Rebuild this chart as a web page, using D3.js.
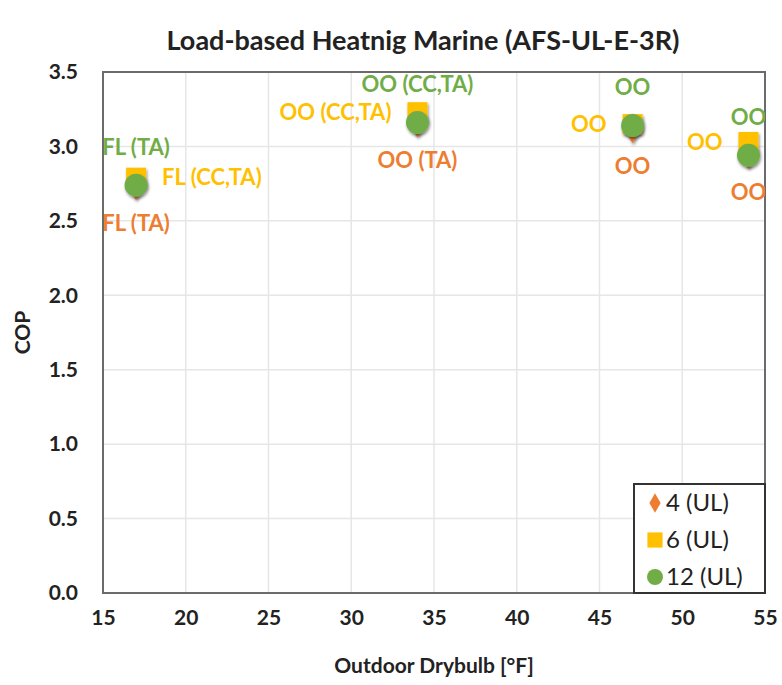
<!DOCTYPE html>
<html>
<head>
<meta charset="utf-8">
<script src="https://cdn.jsdelivr.net/npm/d3@7"></script>
<style>
  body { margin: 0; background: #fff; }
  text { font-family: Lato, "Open Sans", sans-serif; font-weight: 700; }
</style>
</head>
<body>
<div id="chart"></div>
<script>
// data
const temps = [17, 34, 47, 54];
const cop4 = [2.74, 3.16, 3.12, 2.95];
const cop6 = [2.79, 3.23, 3.15, 3.03];
const cop12 = [2.74, 3.16, 3.14, 2.94];
const labels4 = ["FL (TA)", "OO (TA)", "OO", "OO"];
const labels6 = ["FL (CC,TA)", "OO (CC,TA)", "OO", "OO"];
const labels12 = ["FL (TA)", "OO (CC,TA)", "OO", "OO"];
const seriesNames = ["4 (UL)", "6 (UL)", "12 (UL)"];
const xTicks = [15, 20, 25, 30, 35, 40, 45, 50, 55];
const yTicks = [0, 0.5, 1, 1.5, 2, 2.5, 3, 3.5];

const width = 782, height = 685;
const margin = { top: 72, right: 17, bottom: 92, left: 103 };

const svg = d3.select("#chart").append("svg")
    .attr("width", width)
    .attr("height", height);

const x = d3.scaleLinear().domain([15, 55]).range([margin.left, width - margin.right]);
const y = d3.scaleLinear().domain([0, 3.5]).range([height - margin.bottom, margin.top]);

// title
svg.append("text")
    .attr("x", 423).attr("y", 50)
    .attr("text-anchor", "middle")
    .attr("font-size", 27)
    .attr("fill", "#222")
    .text("Load-based Heatnig Marine (AFS-UL-E-3R)");

// grid
svg.append("g").selectAll("line").data(xTicks.slice(1, -1)).join("line")
    .attr("x1", d => x(d)).attr("x2", d => x(d))
    .attr("y1", y(0)).attr("y2", y(3.5))
    .attr("stroke", "#e6e6e6").attr("stroke-width", 1.5);
svg.append("g").selectAll("line").data(yTicks.slice(1, -1)).join("line")
    .attr("x1", x(15)).attr("x2", x(55))
    .attr("y1", d => y(d)).attr("y2", d => y(d))
    .attr("stroke", "#e6e6e6").attr("stroke-width", 1.5);

// axes
const xAxis = svg.append("g")
    .attr("transform", `translate(0,${y(0)})`)
    .call(d3.axisBottom(x).tickValues(xTicks).tickSize(0).tickPadding(17));
const yAxis = svg.append("g")
    .attr("transform", `translate(${x(15)},0)`)
    .call(d3.axisLeft(y).tickValues(yTicks).tickFormat(d3.format(".1f")).tickSize(0).tickPadding(25));
[xAxis, yAxis].forEach(g => {
    g.select(".domain").remove();
    g.selectAll("text").attr("font-size", 21).attr("fill", "#222")
        .attr("font-family", "Lato, sans-serif").attr("font-weight", 700);
});

// plot border
svg.append("rect")
    .attr("x", x(15)).attr("y", y(3.5))
    .attr("width", x(55) - x(15)).attr("height", y(0) - y(3.5))
    .attr("fill", "none").attr("stroke", "#6b6b6b").attr("stroke-width", 2);

// axis titles
svg.append("text")
    .attr("transform", `translate(30,${(y(0) + y(3.5)) / 2}) rotate(-90)`)
    .attr("text-anchor", "middle")
    .attr("font-size", 21).attr("fill", "#222")
    .text("COP");
svg.append("text")
    .attr("x", (x(15) + x(55)) / 2).attr("y", 673)
    .attr("text-anchor", "middle")
    .attr("font-size", 21).attr("fill", "#222")
    .text("Outdoor Drybulb [°F]");

const defs = svg.append("defs");
defs.append("clipPath").attr("id", "plot-clip")
    .append("rect")
    .attr("x", x(15)).attr("y", y(3.5))
    .attr("width", x(55) - x(15)).attr("height", y(0) - y(3.5));

const shadow = defs.append("filter").attr("id", "shadow")
    .attr("x", "-50%").attr("y", "-50%").attr("width", "200%").attr("height", "200%");
shadow.append("feDropShadow")
    .attr("dx", 1).attr("dy", 2).attr("stdDeviation", 1.6)
    .attr("flood-color", "#000").attr("flood-opacity", 0.45);

const plot = svg.append("g").attr("clip-path", "url(#plot-clip)");

const orange = "#ED7D31", yellow = "#FFC000", green = "#70AD47";

// series 4 (diamonds)
plot.append("g").selectAll("path").data(temps).join("path")
    .attr("d", d3.symbol(d3.symbolDiamond, 260)())
    .attr("transform", (d, i) => `translate(${x(d)},${y(cop4[i])})`)
    .attr("fill", orange).attr("filter", "url(#shadow)");

// series 6 (squares)
plot.append("g").selectAll("path").data(temps).join("path")
    .attr("d", d3.symbol(d3.symbolSquare, 400)())
    .attr("transform", (d, i) => `translate(${x(d)},${y(cop6[i])})`)
    .attr("fill", yellow).attr("filter", "url(#shadow)");

// series 12 (circles)
plot.append("g").selectAll("circle").data(temps).join("circle")
    .attr("cx", d => x(d))
    .attr("cy", (d, i) => y(cop12[i]))
    .attr("r", 11.5)
    .attr("fill", green).attr("filter", "url(#shadow)");

// data labels
const labelSize = 22;
plot.append("g").selectAll("text").data(temps).join("text")
    .attr("x", d => x(d))
    .attr("y", (d, i) => y(cop4[i]) + 38)
    .attr("dy", "0.35em")
    .attr("text-anchor", "middle")
    .attr("font-size", labelSize).attr("fill", orange)
    .text((d, i) => labels4[i]);

plot.append("g").selectAll("text").data(temps).join("text")
    .attr("x", (d, i) => i === 0 ? x(d) + 26 : x(d) - 26)
    .attr("y", (d, i) => y(cop6[i]))
    .attr("dy", "0.35em")
    .attr("text-anchor", (d, i) => i === 0 ? "start" : "end")
    .attr("font-size", labelSize).attr("fill", yellow)
    .text((d, i) => labels6[i]);

plot.append("g").selectAll("text").data(temps).join("text")
    .attr("x", d => x(d))
    .attr("y", (d, i) => y(cop12[i]) - 38)
    .attr("dy", "0.35em")
    .attr("text-anchor", "middle")
    .attr("font-size", labelSize).attr("fill", green)
    .text((d, i) => labels12[i]);

// legend
const legend = svg.append("g");
const legX = 634, legY = 484, legW = x(55) - 634, legH = y(0) - 484;
legend.append("rect")
    .attr("x", legX).attr("y", legY).attr("width", legW).attr("height", legH)
    .attr("fill", "#fff").attr("stroke", "#333").attr("stroke-width", 2);
const legendSymbols = [
    { shape: d3.symbolDiamond, size: 110, color: orange },
    { shape: d3.symbolSquare, size: 230, color: yellow },
    { shape: d3.symbolCircle, size: 200, color: green }
];
seriesNames.forEach((name, i) => {
    const cy = legY + 19 + i * 37;
    legend.append("path")
        .attr("d", d3.symbol(legendSymbols[i].shape, legendSymbols[i].size)())
        .attr("transform", `translate(${legX + 21},${cy})`)
        .attr("fill", legendSymbols[i].color);
    legend.append("text")
        .attr("x", legX + 32).attr("y", cy)
        .attr("dy", "0.35em")
        .attr("font-size", 24).style("font-weight", 400).attr("fill", "#222")
        .text(name);
});
</script>
</body>
</html>
